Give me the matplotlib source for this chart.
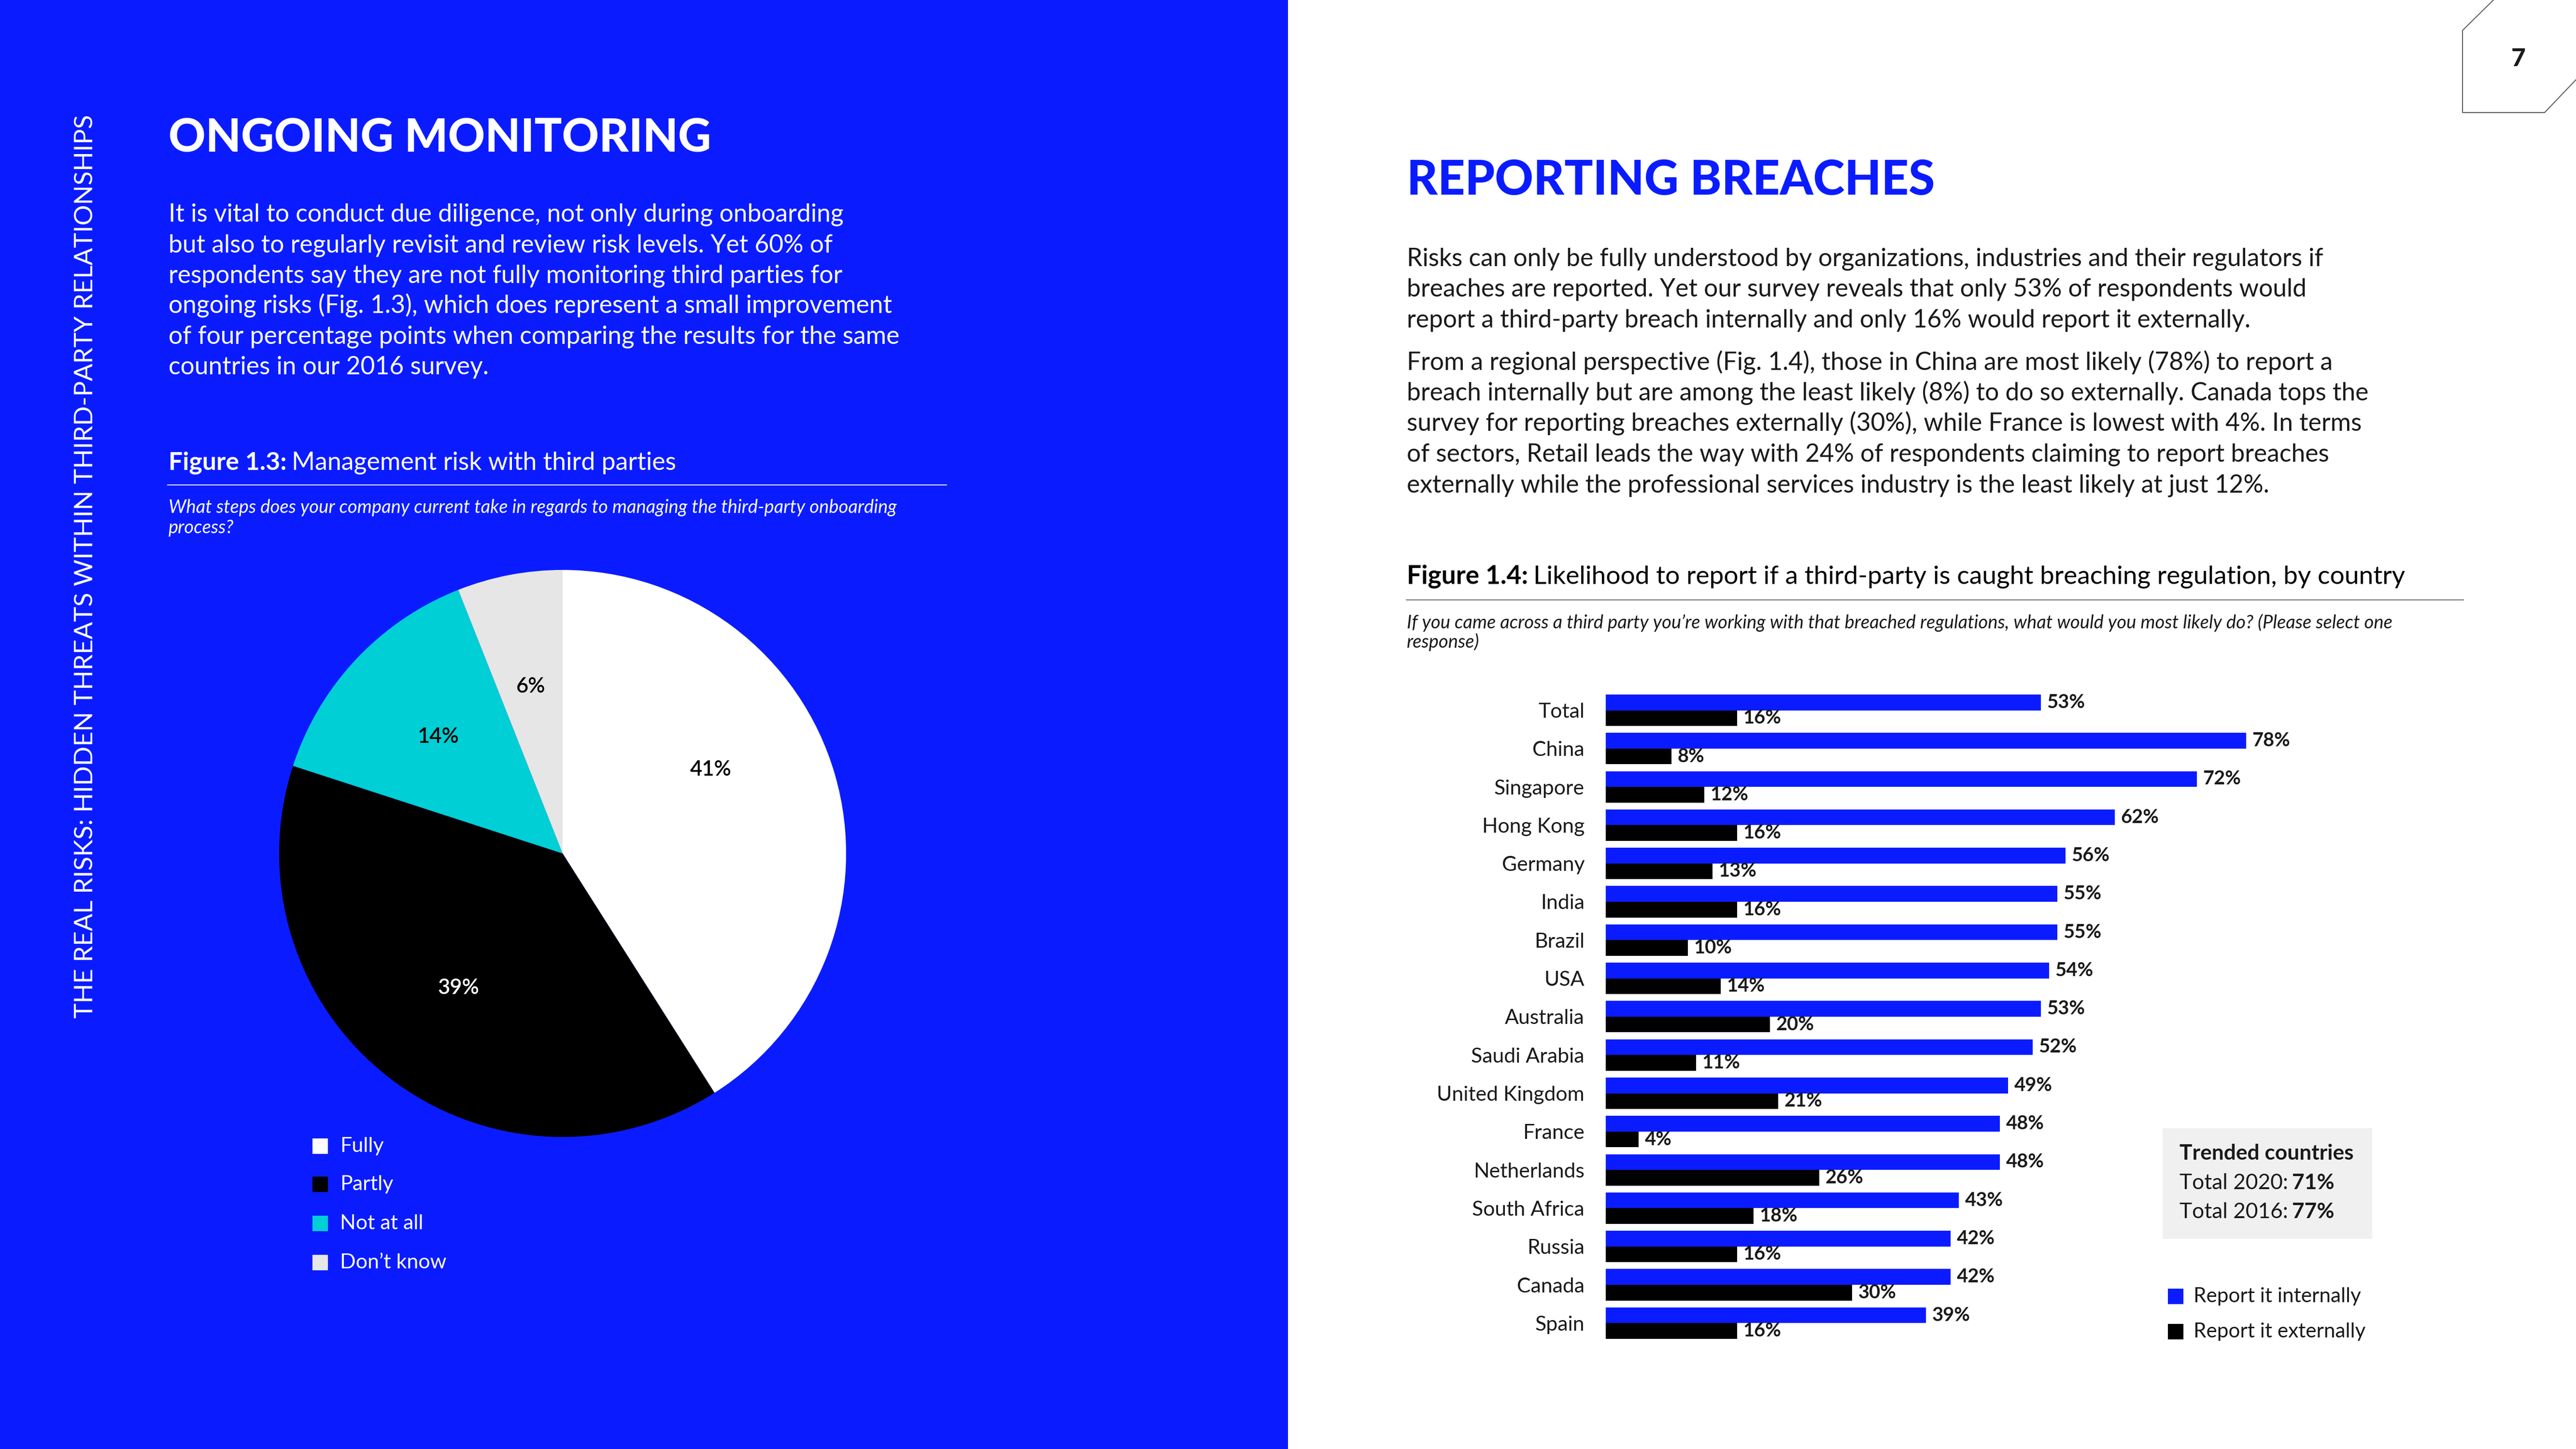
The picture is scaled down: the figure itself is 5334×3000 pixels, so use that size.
import matplotlib
matplotlib.use('Agg')
import matplotlib.pyplot as plt
from matplotlib.patches import Rectangle
import numpy as np

W, H = 5334, 3000
DPI = 100
FONT = ['Lato', 'DejaVu Sans']
plt.rcParams['font.family'] = FONT

# ---------------- data ----------------
pie_labels = ['Fully', 'Partly', 'Not at all', 'Don\u2019t know']
pie_values = [41, 39, 14, 6]
pie_colors = ['#FFFFFF', '#000000', '#00CFD6', '#E6E6E6']
pie_text_colors = ['#000000', '#FFFFFF', '#000000', '#000000']

countries = ['Total', 'China', 'Singapore', 'Hong Kong', 'Germany', 'India', 'Brazil',
             'USA', 'Australia', 'Saudi Arabia', 'United Kingdom', 'France',
             'Netherlands', 'South Africa', 'Russia', 'Canada', 'Spain']
internal = [53, 78, 72, 62, 56, 55, 55, 54, 53, 52, 49, 48, 48, 43, 42, 42, 39]
external = [16, 8, 12, 16, 13, 16, 10, 14, 20, 11, 21, 4, 26, 18, 16, 30, 16]
series_names = ['Report it internally', 'Report it externally']
trend_title = 'Trended countries'
trend_labels = ['Total 2020:', 'Total 2016:']
trend_values = ['71%', '77%']

side_text = 'THE REAL RISKS: HIDDEN THREATS WITHIN THIRD-PARTY RELATIONSHIPS'
left_title = 'ONGOING MONITORING'
left_body = [
    'It is vital to conduct due diligence, not only during onboarding',
    'but also to regularly revisit and review risk levels. Yet 60% of',
    'respondents say they are not fully monitoring third parties for',
    'ongoing risks (Fig. 1.3), which does represent a small improvement',
    'of four percentage points when comparing the results for the same',
    'countries in our 2016 survey.',
]
fig13_bold = 'Figure 1.3:'
fig13_rest = 'Management risk with third parties'
fig13_sub = ['What steps does your company current take in regards to managing the third-party onboarding',
             'process?']
right_title = 'REPORTING BREACHES'
right_p1 = [
    'Risks can only be fully understood by organizations, industries and their regulators if',
    'breaches are reported. Yet our survey reveals that only 53% of respondents would',
    'report a third-party breach internally and only 16% would report it externally.',
]
right_p2 = [
    'From a regional perspective (Fig. 1.4), those in China are most likely (78%) to report a',
    'breach internally but are among the least likely (8%) to do so externally. Canada tops the',
    'survey for reporting breaches externally (30%), while France is lowest with 4%. In terms',
    'of sectors, Retail leads the way with 24% of respondents claiming to report breaches',
    'externally while the professional services industry is the least likely at just 12%.',
]
fig14_bold = 'Figure 1.4:'
fig14_rest = 'Likelihood to report if a third-party is caught breaching regulation, by country'
fig14_sub = ['If you came across a third party you\u2019re working with that breached regulations, what would you most likely do? (Please select one',
             'response)']
page_no = '7'

BLUE = '#0A1CFF'
DARK = '#1A1A1A'

# ---------------- figure ----------------
fig = plt.figure(figsize=(W / DPI, H / DPI), dpi=DPI)
renderer = fig.canvas.get_renderer()

bg = fig.add_axes([0, 0, 1, 1])
bg.set_xlim(0, W)
bg.set_ylim(H, 0)
bg.axis('off')
bg.set_zorder(0)
bg.add_patch(Rectangle((0, 0), 2667, H, color=BLUE, lw=0))


def fit(text, target, **kw):
    t = bg.text(0, 0, text, fontsize=100, **kw)
    w = t.get_window_extent(renderer).width
    t.remove()
    return 100.0 * target / w


def wpx(t):
    return t.get_window_extent(renderer).width


# side vertical text
fs = fit(side_text, 1872)
bg.text(178, 1173, side_text, rotation=90, ha='center', va='center', color='white', fontsize=fs)

# left title
fs = fit(left_title, 1123, fontweight='black')
bg.text(349, 313, left_title, color='white', fontsize=fs, fontweight='black', va='baseline')

# left body
fs = fit(left_body[4], 1517)
for i, line in enumerate(left_body):
    bg.text(349, 459 + 63.2 * i, line, color='white', fontsize=fs, va='baseline')

# fig 1.3 title
fs = fit(fig13_bold + ' ' + fig13_rest, 1052)
t = bg.text(349, 973, fig13_bold, color='white', fontsize=fs, fontweight='bold', va='baseline')
bg.text(349 + wpx(t) + fs * 0.28, 973, fig13_rest, color='white', fontsize=fs, va='baseline')
bg.plot([347, 1960], [1004, 1004], color='white', lw=1.3)
fs = fit(fig13_sub[0], 1509, fontstyle='italic')
for i, line in enumerate(fig13_sub):
    bg.text(349, 1062 + 42 * i, line, color='white', fontsize=fs, fontstyle='italic', va='baseline')

# ---------------- pie ----------------
R = 587
cx, cy = 1165, 1767
ax_p = fig.add_axes([(cx - R) / W, 1 - (cy + R) / H, 2 * R / W, 2 * R / H])
ax_p.set_zorder(1)
pfs = fit('41%', 86, fontweight='semibold')
wedges, texts, autotexts = ax_p.pie(
    pie_values, colors=pie_colors, startangle=90, counterclock=False,
    autopct='%1.0f%%', pctdistance=0.6, wedgeprops=dict(linewidth=0),
    textprops=dict(fontsize=pfs, fontweight='semibold'))
for at, c in zip(autotexts, pie_text_colors):
    at.set_color(c)
# the large first slice carries its label nearer its upper edge, as in the source
w0 = wedges[0]
ang = np.deg2rad(w0.theta2 - 0.41 * (w0.theta2 - w0.theta1))
autotexts[0].set_position((0.6 * np.cos(ang), 0.6 * np.sin(ang)))
ax_p.set_xlim(-1, 1)
ax_p.set_ylim(-1, 1)
ax_p.set_aspect('equal')

# pie legend
fs = fit('Don\u2019t know', 221)
leg_y = [2373, 2452, 2533, 2614]
for lab, col, yy in zip(pie_labels, pie_colors, leg_y):
    bg.add_patch(Rectangle((647, yy - 16), 32, 32, color=col, lw=0))
    bg.text(704, yy, lab, color='white', fontsize=fs, va='center')

# ---------------- right page ----------------
bg.plot([5163, 5099, 5099, 5269, 5334], [0, 63, 233, 233, 165], color='#555555', lw=1.4)
bg.text(5215, 137, page_no, color=DARK, fontsize=37, fontweight='black', ha='center', va='baseline')

fs = fit(right_title, 1093, fontweight='black')
bg.text(2913, 403, right_title, color=BLUE, fontsize=fs, fontweight='black', va='baseline')

fs = fit(right_p2[1], 1993)
for i, line in enumerate(right_p1):
    bg.text(2913, 551 + 63.3 * i, line, color=DARK, fontsize=fs, va='baseline')
for i, line in enumerate(right_p2):
    bg.text(2913, 766 + 63.3 * i, line, color=DARK, fontsize=fs, va='baseline')

fs = fit(fig14_bold + ' ' + fig14_rest, 2067)
t = bg.text(2913, 1209, fig14_bold, color='black', fontsize=fs, fontweight='bold', va='baseline')
bg.text(2913 + wpx(t) + fs * 0.28, 1209, fig14_rest, color='black', fontsize=fs, va='baseline')
bg.plot([2912, 5101], [1242, 1242], color='#666666', lw=1.3)
fs = fit(fig14_sub[0], 2045, fontstyle='italic')
for i, line in enumerate(fig14_sub):
    bg.text(2913, 1301 + 40 * i, line, color=DARK, fontsize=fs, fontstyle='italic', va='baseline')

# ---------------- bar chart ----------------
n = len(countries)
step = 79.3
g0 = 1470.5
top = g0 - 0.5 * step
bot = g0 + (n - 0.5) * step
x0 = 3325
ppp = 17.0  # pixels per percent
ax_b = fig.add_axes([x0 / W, 1 - bot / H, 100 * ppp / W, (bot - top) / H])
ax_b.set_zorder(1)
ax_b.patch.set_alpha(0)
y = np.arange(n)
h = 0.41
b1 = ax_b.barh(y - h / 2, internal, height=h, color=BLUE, lw=0)
b2 = ax_b.barh(y + h / 2, external, height=h, color='black', lw=0)
vfs = fit('53%', 79, fontweight='bold')
ax_b.bar_label(b1, fmt='%d%%', padding=9, fontsize=vfs, fontweight='bold', color=DARK)
ax_b.bar_label(b2, fmt='%d%%', padding=9, fontsize=vfs, fontweight='bold', color=DARK)
ax_b.set_xlim(0, 100)
ax_b.set_ylim(n - 0.5, -0.5)
cfs = fit('Singapore', 187)
ax_b.set_yticks(y, countries)
ax_b.tick_params(axis='y', length=0, pad=44 * 0.72, labelsize=cfs, labelcolor=DARK)
ax_b.set_xticks([])
for s in ax_b.spines.values():
    s.set_visible(False)

# trended box
bg.add_patch(Rectangle((4478, 2336), 434, 229, color='#F0F0F0', lw=0))
fs = fit(trend_title, 360, fontweight='bold')
bg.text(4513, 2388, trend_title, color=DARK, fontsize=fs, fontweight='bold', va='center')
for i, (lab, val) in enumerate(zip(trend_labels, trend_values)):
    yy = 2449 + 60 * i
    t = bg.text(4513, yy, lab, color=DARK, fontsize=fs, va='center')
    bg.text(4513 + wpx(t) + fs * 0.25, yy, val, color=DARK, fontsize=fs, fontweight='bold', va='center')

# bar legend
fs = fit(series_names[1], 356)
for i, (name, col) in enumerate(zip(series_names, [BLUE, 'black'])):
    yy = 2684 + 73 * i
    bg.add_patch(Rectangle((4489, yy - 16), 32, 32, color=col, lw=0))
    bg.text(4542, yy, name, color=DARK, fontsize=fs, va='center')

fig.savefig('out.png', dpi=DPI)
